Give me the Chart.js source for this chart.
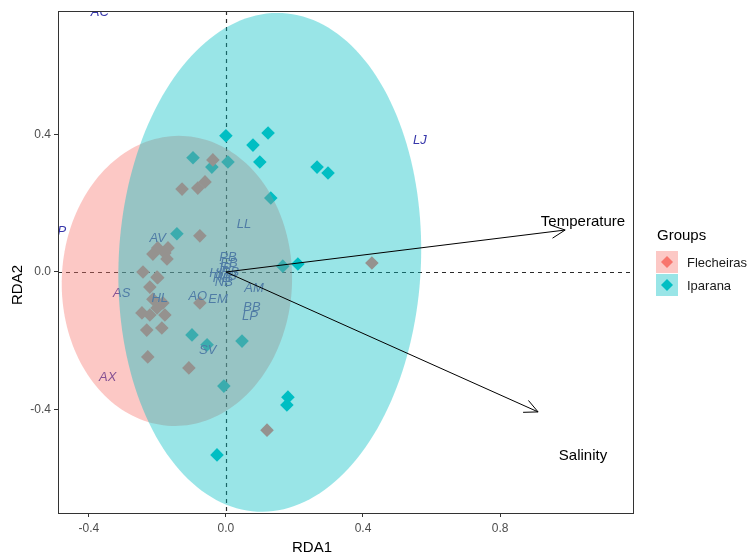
<!DOCTYPE html>
<html>
<head>
<meta charset="utf-8">
<script src="https://cdn.jsdelivr.net/npm/chart.js@4.4.1/dist/chart.umd.min.js"></script>
<style>
  html, body { margin: 0; padding: 0; background: #ffffff; }
  #wrap { width: 750px; height: 557px; }
</style>
</head>
<body>
<div id="wrap"><canvas id="rda" width="750" height="557"></canvas></div>
<script>
// Site scores (RDA1, RDA2) per group
const groupNames = ['Flecheiras', 'Iparana'];
const flecheirasX = [-0.038, -0.061, -0.082, -0.128, -0.076, -0.199, -0.169, -0.213, -0.178, -0.172,
                     -0.242, -0.201, -0.199, -0.222, -0.213, -0.184, -0.245, -0.222, -0.178, -0.201,
                     -0.231, -0.187, -0.228, -0.108, -0.076, 0.426, 0.120];
const flecheirasY = [0.326, 0.262, 0.244, 0.241, 0.105, 0.070, 0.070, 0.052, 0.055, 0.038,
                     0.000, -0.015, -0.017, -0.044, -0.079, -0.090, -0.119, -0.125, -0.125, -0.105,
                     -0.169, -0.163, -0.247, -0.279, -0.090, 0.026, -0.460];
const iparanaX = [0.000, 0.123, 0.079, 0.099, 0.006, -0.096, -0.041, 0.266, 0.298, 0.131,
                  -0.143, 0.166, 0.210, -0.099, -0.055, 0.047, -0.006, 0.181, 0.178, -0.026];
const iparanaY = [0.396, 0.404, 0.369, 0.320, 0.320, 0.332, 0.305, 0.305, 0.288, 0.215,
                  0.111, 0.017, 0.023, -0.183, -0.212, -0.201, -0.332, -0.364, -0.387, -0.532];

// Species scores
const speciesNames = ['AC', 'P', 'LJ', 'LL', 'AV', 'AS', 'HL', 'AO', 'EM', 'AM', 'BB', 'LP', 'SV', 'AX',
                      'PB', 'EB', 'JP', 'HI', 'HB', 'NB', 'MB', 'RB'];
const speciesX = [-0.368, -0.479, 0.566, 0.053, -0.199, -0.304, -0.193, -0.082, -0.023, 0.082, 0.076, 0.070, -0.053, -0.345,
                  0.006, 0.009, -0.006, -0.030, -0.012, -0.006, 0.003, 0.012];
const speciesY = [0.755, 0.119, 0.384, 0.137, 0.099, -0.061, -0.076, -0.070, -0.081, -0.049, -0.102, -0.128, -0.227, -0.308,
                  0.042, 0.025, 0.010, -0.005, -0.018, -0.030, -0.012, 0.000];

// Environmental vectors (arrow tips) and their label positions
const envNames = ['Temperature', 'Salinity'];
const envX = [0.990, 0.911];
const envY = [0.122, -0.407];
const envLabelX = [1.042, 1.042];
const envLabelY = [0.145, -0.535];

// Group ellipses: centre, semi-axes, tilt (radians, major axis from vertical)
const ellipseCX = [-0.143, 0.128];
const ellipseCY = [-0.026, 0.028];
const ellipseMajor = [0.422, 0.726];
const ellipseMinor = [0.336, 0.441];
const ellipseTilt = [0.04, 0.05];

// Axis ticks
const xTicks = [-0.4, 0.0, 0.4, 0.8];
const yTicks = [-0.4, 0.0, 0.4];

const groupColors = ['#F8766D', '#00BFC4'];
const groupFills = ['rgba(248,118,109,0.4)', 'rgba(0,191,196,0.4)'];
const FONT = '"Liberation Sans", Arial, sans-serif';

const zeroLines = {
  id: 'zeroLines',
  beforeDatasetsDraw(chart) {
    const { ctx, chartArea: a, scales: { x, y } } = chart;
    ctx.save();
    ctx.strokeStyle = '#2b2b2b';
    ctx.lineWidth = 1.2;
    ctx.setLineDash([4, 4]);
    const x0 = Math.round(x.getPixelForValue(0)) + 0.5;
    const y0 = Math.round(y.getPixelForValue(0)) + 0.5;
    ctx.beginPath();
    ctx.moveTo(x0, a.top); ctx.lineTo(x0, a.bottom);
    ctx.moveTo(a.left, y0); ctx.lineTo(a.right, y0);
    ctx.stroke();
    ctx.restore();
  }
};

function ellipsePath(ctx, x, y, i) {
  const t = ellipseTilt[i];
  const ux = Math.sin(t), uy = Math.cos(t);
  const vx = Math.cos(t), vy = -Math.sin(t);
  ctx.beginPath();
  const n = 180;
  for (let k = 0; k <= n; k++) {
    const phi = k / n * Math.PI * 2;
    const dx = ellipseCX[i] + ellipseMajor[i] * Math.cos(phi) * ux + ellipseMinor[i] * Math.sin(phi) * vx;
    const dy = ellipseCY[i] + ellipseMajor[i] * Math.cos(phi) * uy + ellipseMinor[i] * Math.sin(phi) * vy;
    const px = x.getPixelForValue(dx), py = y.getPixelForValue(dy);
    if (k === 0) ctx.moveTo(px, py); else ctx.lineTo(px, py);
  }
  ctx.closePath();
}

const overlays = {
  id: 'overlays',
  afterDatasetsDraw(chart) {
    const { ctx, chartArea: a, scales: { x, y } } = chart;
    ctx.save();
    ctx.beginPath();
    ctx.rect(a.left, a.top, a.right - a.left, a.bottom - a.top);
    ctx.clip();

    // species labels
    ctx.font = 'italic 13px ' + FONT;
    ctx.fillStyle = 'rgb(55,55,170)';
    ctx.textAlign = 'center';
    ctx.textBaseline = 'middle';
    speciesNames.forEach((s, i) => {
      ctx.fillText(s, x.getPixelForValue(speciesX[i]), y.getPixelForValue(speciesY[i]));
    });

    // group ellipses
    for (let i = 0; i < groupNames.length; i++) {
      ellipsePath(ctx, x, y, i);
      ctx.fillStyle = groupFills[i];
      ctx.fill();
    }

    // environmental arrows
    const x0 = x.getPixelForValue(0), y0 = y.getPixelForValue(0);
    ctx.strokeStyle = '#000000';
    ctx.lineWidth = 1;
    envNames.forEach((n, i) => {
      const x1 = x.getPixelForValue(envX[i]), y1 = y.getPixelForValue(envY[i]);
      const ang = Math.atan2(y1 - y0, x1 - x0);
      const len = 15, spread = Math.PI / 7;
      ctx.beginPath();
      ctx.moveTo(x0, y0); ctx.lineTo(x1, y1);
      ctx.moveTo(x1 - len * Math.cos(ang - spread), y1 - len * Math.sin(ang - spread));
      ctx.lineTo(x1, y1);
      ctx.lineTo(x1 - len * Math.cos(ang + spread), y1 - len * Math.sin(ang + spread));
      ctx.stroke();
    });
    ctx.font = '15px ' + FONT;
    ctx.fillStyle = '#000000';
    envNames.forEach((n, i) => {
      ctx.fillText(n, x.getPixelForValue(envLabelX[i]), y.getPixelForValue(envLabelY[i]));
    });
    ctx.restore();

    // panel border
    ctx.save();
    ctx.strokeStyle = '#333333';
    ctx.lineWidth = 1;
    ctx.strokeRect(Math.round(a.left) + 0.5, Math.round(a.top) + 0.5,
                   Math.round(a.right - a.left), Math.round(a.bottom - a.top));
    ctx.restore();
  },
  afterDraw(chart) {
    const { ctx, chartArea: a } = chart;
    ctx.save();
    // axis titles
    ctx.fillStyle = '#000000';
    ctx.font = '15px ' + FONT;
    ctx.textAlign = 'center';
    ctx.textBaseline = 'middle';
    ctx.fillText('RDA1', 312, 548);
    ctx.translate(18, 285);
    ctx.rotate(-Math.PI / 2);
    ctx.fillText('RDA2', 0, 0);
    ctx.restore();

    // legend
    ctx.save();
    ctx.textAlign = 'left';
    ctx.textBaseline = 'middle';
    ctx.fillStyle = '#000000';
    ctx.font = '15px ' + FONT;
    const lx = a.right + 23;
    ctx.fillText('Groups', lx + 1, 236);
    groupNames.forEach((g, i) => {
      const top = 251 + i * 23;
      ctx.fillStyle = '#ffffff';
      ctx.fillRect(lx, top, 22, 22);
      ctx.fillStyle = groupColors[i];
      const cx = lx + 11, cy = top + 11, r = 6;
      ctx.beginPath();
      ctx.moveTo(cx, cy - r); ctx.lineTo(cx + r, cy); ctx.lineTo(cx, cy + r); ctx.lineTo(cx - r, cy);
      ctx.closePath();
      ctx.fill();
      ctx.fillStyle = groupFills[i];
      ctx.fillRect(lx, top, 22, 22);
      ctx.fillStyle = '#1a1a1a';
      ctx.font = '13px ' + FONT;
      ctx.fillText(g, lx + 31, cy + 1);
    });
    ctx.restore();
  }
};

const toPoints = (xs, ys) => xs.map((v, i) => ({ x: v, y: ys[i] }));

new Chart(document.getElementById('rda'), {
  type: 'scatter',
  data: {
    datasets: [
      { label: groupNames[0], data: toPoints(flecheirasX, flecheirasY),
        pointStyle: 'rectRot', pointRadius: 6.8, pointBackgroundColor: groupColors[0], pointBorderWidth: 0 },
      { label: groupNames[1], data: toPoints(iparanaX, iparanaY),
        pointStyle: 'rectRot', pointRadius: 6.8, pointBackgroundColor: groupColors[1], pointBorderWidth: 0 }
    ]
  },
  options: {
    responsive: false,
    animation: false,
    devicePixelRatio: 1,
    layout: { padding: { top: 11, right: 117, left: 0, bottom: 0 } },
    plugins: { legend: { display: false }, tooltip: { enabled: false } },
    scales: {
      x: {
        type: 'linear', min: -0.49, max: 1.188,
        afterBuildTicks: s => { s.ticks = xTicks.map(v => ({ value: v })); },
        afterFit: s => { s.height = 44; },
        grid: { drawOnChartArea: false, drawTicks: true, tickLength: 4, color: '#333333' },
        border: { display: true, color: '#333333' },
        ticks: { color: '#4d4d4d', font: { size: 12, family: FONT }, padding: 4, maxRotation: 0,
                 autoSkip: false, callback: v => v.toFixed(1) }
      },
      y: {
        type: 'linear', min: -0.701, max: 0.759,
        afterBuildTicks: s => { s.ticks = yTicks.map(v => ({ value: v })); },
        afterFit: s => { s.width = 58; },
        grid: { drawOnChartArea: false, drawTicks: true, tickLength: 4, color: '#333333' },
        border: { display: true, color: '#333333' },
        ticks: { color: '#4d4d4d', font: { size: 12, family: FONT }, padding: 3,
                 autoSkip: false, callback: v => v.toFixed(1) }
      }
    }
  },
  plugins: [zeroLines, overlays]
});
</script>
</body>
</html>
